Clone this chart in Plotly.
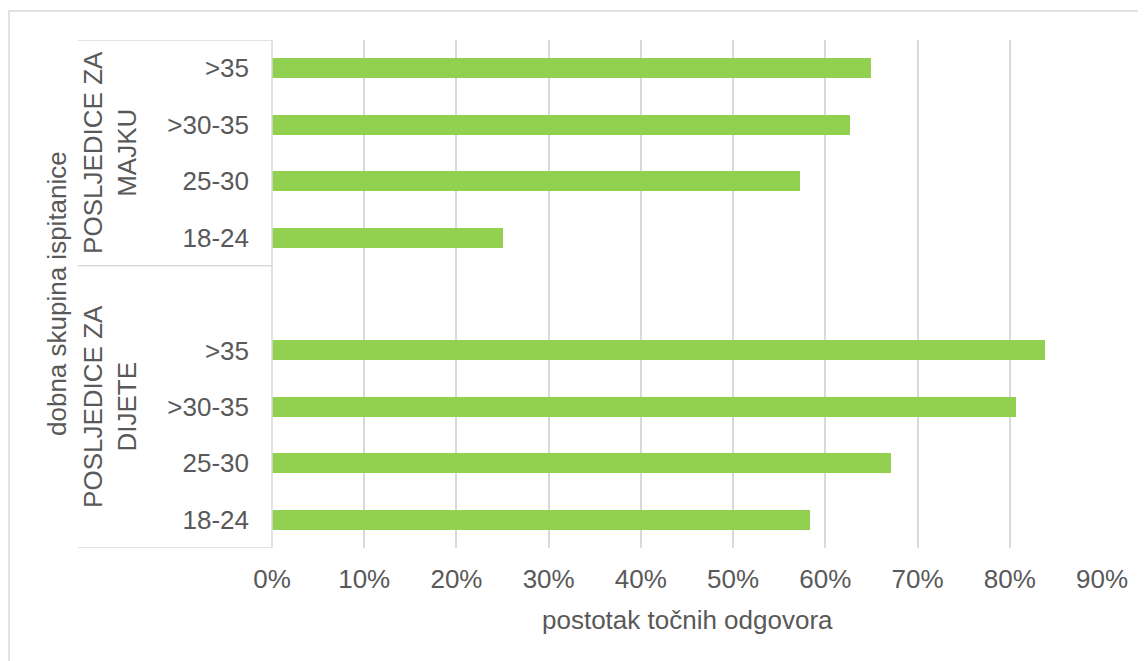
import plotly.graph_objects as go

groups = ["POSLJEDICE ZA<br>MAJKU", "POSLJEDICE ZA<br>DIJETE"]
ages = [">35", ">30-35", "25-30", "18-24"]
majku_values = [0.649, 0.627, 0.573, 0.250]
dijete_values = [0.838, 0.807, 0.671, 0.583]
x_ticks = [0, 0.1, 0.2, 0.3, 0.4, 0.5, 0.6, 0.7, 0.8, 0.9]
x_tick_labels = ["0%", "10%", "20%", "30%", "40%", "50%", "60%", "70%", "80%", "90%"]

FONT = "Liberation Sans, Arial, sans-serif"
TXT = "#595959"
GRID = "#d9d9d9"
GREEN = "#92D050"
FS = 26

# positions: bottom group (DIJETE) 0..3, gap 4, top group (MAJKU) 5..8
n = len(ages)
pos_dijete = [n - 1 - i for i in range(n)]
pos_majku = [2 * n - i for i in range(n)]

fig = go.Figure()
fig.add_trace(go.Bar(
    y=pos_majku + pos_dijete,
    x=majku_values + dijete_values,
    orientation="h",
    width=0.355,
    marker=dict(color=GREEN, line=dict(width=0)),
    hoverinfo="x",
))

# page body has an 8px margin; compensate
OFF = 8
W, H = 1146 - OFF, 661 - OFF
L, R, T, B = 272 - OFF, 1102 - OFF, 40 - OFF, 548 - OFF
fig.update_layout(
    width=W, height=H,
    margin=dict(l=L, r=W - R, t=T, b=H - B, autoexpand=False),
    paper_bgcolor="white", plot_bgcolor="white",
    showlegend=False,
    font=dict(family=FONT, size=FS, color=TXT),
    bargap=0,
)
fig.update_xaxes(
    range=[0, 0.9], tickvals=x_ticks, ticktext=x_tick_labels,
    showgrid=True, gridcolor=GRID, gridwidth=1.5,
    zeroline=False, showline=False, ticks="",
    ticklabelstandoff=13,
    tickfont=dict(size=FS, color=TXT),
)
fig.update_yaxes(
    range=[-0.5, 2 * n + 0.5],
    tickvals=pos_majku + pos_dijete, ticktext=ages + ages,
    showgrid=False, zeroline=False, showline=False, ticks="",
    ticklabelstandoff=22,
    tickfont=dict(size=FS, color=TXT),
)

def px_x(px):
    return (px - OFF - L) / (R - L)

def px_y(py):
    return (B - (py - OFF)) / (B - T)

shapes = []
shapes.append(dict(type="rect", xref="paper", yref="paper",
                   x0=px_x(9), x1=px_x(1160), y0=px_y(680), y1=px_y(11),
                   line=dict(color=GRID, width=1.5), fillcolor="rgba(0,0,0,0)", layer="below"))
for yv in [-0.5, n + 0.5, 2 * n + 0.5]:
    shapes.append(dict(type="line", xref="paper", yref="y",
                       x0=px_x(78), x1=0, y0=yv, y1=yv,
                       line=dict(color=GRID, width=1.5)))
shapes.append(dict(type="line", xref="paper", yref="paper",
                   x0=0, x1=0, y0=0, y1=1, line=dict(color=GRID, width=1.5)))
fig.update_layout(shapes=shapes)

annotations = []
group_centers = [(n + 0.5 + 2 * n + 0.5) / 2, (-0.5 + n + 0.5) / 2]
for g, c in zip(groups, group_centers):
    annotations.append(dict(text=g, xref="paper", yref="y", x=px_x(110), y=c,
                            textangle=-90, showarrow=False, xanchor="center", yanchor="middle",
                            font=dict(size=FS, color=TXT, family=FONT)))
annotations.append(dict(text="dobna skupina ispitanice", xref="paper", yref="paper",
                        x=px_x(57), y=0.5, textangle=-90, showarrow=False,
                        xanchor="center", yanchor="middle",
                        font=dict(size=FS, color=TXT, family=FONT)))
annotations.append(dict(text="postotak točnih odgovora", xref="paper", yref="paper",
                        x=0.5, y=px_y(620), showarrow=False,
                        xanchor="center", yanchor="middle",
                        font=dict(size=FS, color=TXT, family=FONT)))
fig.update_layout(annotations=annotations)

fig.write_html("out.html")
